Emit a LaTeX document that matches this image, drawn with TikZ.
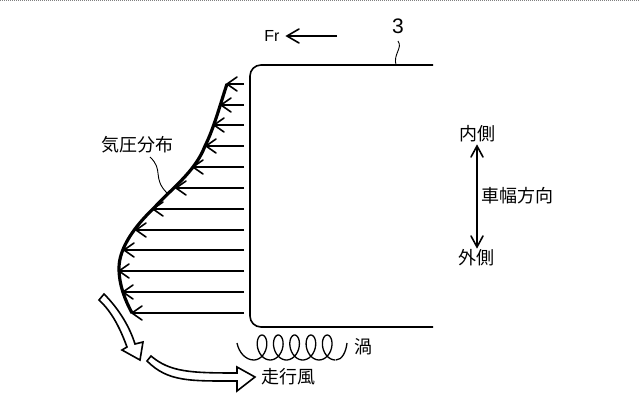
\documentclass[tikz,border=0pt]{standalone}
\usepackage{fontspec}
\setmainfont{Noto Sans CJK JP}
\newfontfamily\latinfont{Liberation Sans}
\tikzset{>=stealth}
\tikzset{
  label/.style={inner sep=0pt, font=\fontsize{18}{20}\selectfont},
  leader/.style={line width=0.9pt},
  body/.style={line width=1.6pt, rounded corners=11pt},
  press/.style={line width=1.6pt},
  presstip/.style={line width=1.6pt, line cap=round},
  windarrow/.style={line width=1.6pt, fill=white, line join=miter},
  dirarrow/.style={line width=1.6pt},
}
\newcommand{\opentip}[2]{\draw[presstip] (#1+10,#2-7) -- (#1,#2) -- (#1+10,#2+7);}
\begin{document}
\begin{tikzpicture}[x=1pt,y=-1pt]
  \useasboundingbox (0,0) rectangle (640,407);
  \draw[gray, line width=1pt, densely dotted] (0,0.5) -- (640,0.5);
  % vehicle side
  \draw[body] (433,65) -- (250,65) -- (250,327) -- (433,327);
  \node[inner sep=0pt, font=\latinfont\fontsize{21}{24}\selectfont] (num) at (398,26) {3};
  \coordinate (numend) at (396,65);
  \draw[leader] (398,41) .. controls (403,48) and (393,54) .. (numend);
  % front direction
  \node[inner sep=0pt, font=\latinfont\fontsize{16}{18}\selectfont] (fr) at (272,36) {Fr};
  \coordinate (frstart) at (337,36);
  \coordinate (frend) at (287,36);
  \draw[dirarrow] (frstart) -- (frend);
  \draw[presstip] (frend)+(12,-7) -- (frend) -- +(12,7);
  % pressure arrows
  \foreach \px/\py in {227/84,221/105,214/125,206/146,193/167,176/188,153/209,136/230,124/250,119/271,123/292,132/313}{
    \draw[press] (244,\py) -- (\px,\py);
    \opentip{\px}{\py}
  }
  % pressure curve
  \draw[line width=3.2pt, line join=round] (227,84) .. controls (220,105) and (214,128) .. (205,146)
    .. controls (195,172) and (172,188) .. (153,209)
    .. controls (135,226) and (119,248) .. (119,268)
    .. controls (119,285) and (125,300) .. (132,313);
  \node[label] (kiatsu) at (137,145) {気圧分布};
  \coordinate (kiatsuend) at (167,193);
  \draw[leader] (150,157) .. controls (164,170) and (152,178) .. (kiatsuend);
  % width direction
  \node[label] (uchi) at (477,134) {内側};
  \node[label] (soto) at (476,258) {外側};
  \node[label] (haba) at (517,196) {車幅方向};
  \coordinate (uchiend) at (477,146);
  \coordinate (sotoend) at (477,247);
  \draw[dirarrow] (uchiend) -- (sotoend);
  \draw[presstip] (uchiend)+(-6,11) -- (uchiend) -- +(6,11);
  \draw[presstip] (sotoend)+(-6,-11) -- (sotoend) -- +(6,-11);
  % vortex
  \draw[line width=1.3pt] (237,343) .. controls (239,353) and (246,360) .. (253.85,360);
  \draw[line width=1.3pt] plot[smooth, samples=140, domain=-180:1620, variable=\t] ({262+\t/360*16.3-8.5*sin(\t)},{347.5-12.5*cos(\t)});
  \draw[line width=1.3pt] (335.85,360) .. controls (342,360) and (346,352) .. (347,343);
  \node[label] (uzu) at (363,347) {渦};
  % wind
  \draw[windarrow] (99,300) -- (104,294) .. controls (120,310) and (130,328) .. (135,344) -- (143,342) -- (140,360) -- (122,350) -- (127,347) .. controls (120,328) and (112,312) .. cycle;
  \draw[windarrow] (147,361) -- (151,356) .. controls (170,372) and (190,373) .. (237,373) -- (237,367) -- (255,377) -- (237,391) -- (237,381) .. controls (190,381) and (168,382) .. cycle;
  \node[label] (wind) at (288,377) {走行風};
\end{tikzpicture}
\end{document}
